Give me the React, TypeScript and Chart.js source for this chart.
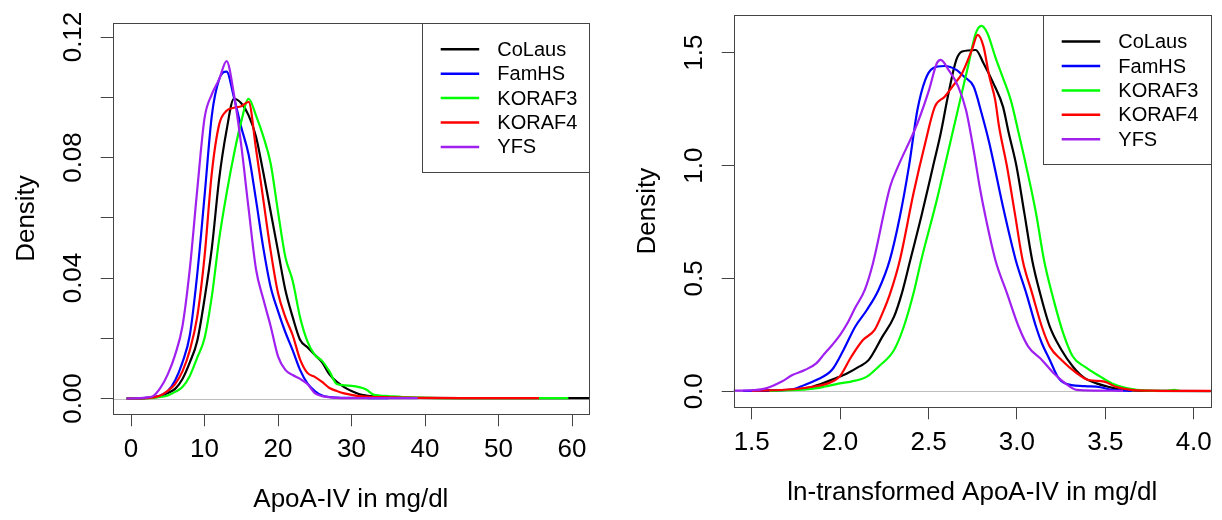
import React, { useEffect, useRef } from "react";
import { Chart, registerables } from "chart.js";

Chart.register(...registerables);

const FONT = '"Liberation Sans", Arial, Helvetica, sans-serif';

const seriesNames = ["CoLaus", "FamHS", "KORAF3", "KORAF4", "YFS"];
const seriesColors = ["#000000", "#0000FF", "#00FF00", "#FF0000", "#A020F0"];

// ---------- Left panel: ApoA-IV in mg/dl ----------
const rawGrid = [-0.6, 2, 3, 4, 5, 6, 7, 8, 9, 10, 11, 12, 13, 14, 15, 16, 17, 18, 19, 20, 21, 22, 23, 24, 25, 26, 27, 28, 29, 30, 31, 32, 33, 35, 37, 39, 45, 50, 55.5, 59.5, 63];
const rawCoLaus = [0, 0.0001, 0.0003, 0.0008, 0.0018, 0.0032, 0.0065, 0.012, 0.019, 0.033, 0.05, 0.073, 0.089, 0.0995, 0.098, 0.094, 0.087, 0.075, 0.062, 0.049, 0.036, 0.027, 0.0195, 0.017, 0.0145, 0.012, 0.008, 0.0055, 0.0038, 0.0025, 0.0015, 0.001, 0.0007, 0.0005, 0.0003, 0.0002, 0.0001, 0.0001, 0.0001, 0.0001, 0.0001];
const rawFamHS = [0, 0.0002, 0.0005, 0.001, 0.0025, 0.006, 0.012, 0.021, 0.041, 0.067, 0.094, 0.106, 0.1085, 0.1, 0.09, 0.081, 0.066, 0.05, 0.037, 0.029, 0.022, 0.016, 0.0095, 0.005, 0.0025, 0.001, 0.0005, 0.0003, 0.0002, 0.0002, 0.0002, 0.0002, 0.0001, 0.0001, null, null, null, null, null, null, null];
const rawKORAF3 = [0, 0.0001, 0.0002, 0.0005, 0.001, 0.0022, 0.0038, 0.0075, 0.0135, 0.02, 0.034, 0.053, 0.068, 0.081, 0.092, 0.0995, 0.094, 0.087, 0.078, 0.062, 0.047, 0.039, 0.027, 0.019, 0.0145, 0.0125, 0.009, 0.0048, 0.0044, 0.0042, 0.0038, 0.003, 0.0013, 0.0008, 0.0005, 0.0003, 0.0001, 0.0001, 0.0001, 0.0001, null];
const rawKORAF4 = [0, 0.0001, 0.0004, 0.001, 0.0025, 0.0048, 0.009, 0.016, 0.027, 0.047, 0.075, 0.091, 0.0955, 0.0965, 0.097, 0.0985, 0.083, 0.066, 0.049, 0.035, 0.027, 0.021, 0.013, 0.0085, 0.0072, 0.0055, 0.0035, 0.0025, 0.0017, 0.0012, 0.0008, 0.0006, 0.0005, 0.0004, 0.0003, 0.0002, 0.0001, 0.0001, 0.0001, null, null];
const rawYFS = [0, 0.0003, 0.0008, 0.0035, 0.008, 0.0145, 0.024, 0.043, 0.069, 0.093, 0.101, 0.106, 0.112, 0.101, 0.084, 0.063, 0.043, 0.033, 0.024, 0.014, 0.0095, 0.0078, 0.0065, 0.0048, 0.0018, 0.0008, 0.0004, 0.0002, 0.0001, 0.0001, 0.0001, 0.0001, 0.0001, 0.0001, 0.0001, 0.0001, null, null, null, null, null];
const rawXTicks = [0, 10, 20, 30, 40, 50, 60];
const rawXTickLabels = ["0", "10", "20", "30", "40", "50", "60"];
const rawYTicks = [0, 0.02, 0.04, 0.06, 0.08, 0.1, 0.12];
const rawYTickLabels = ["0.00", "", "0.04", "", "0.08", "", "0.12"];

// ---------- Right panel: ln-transformed ----------
const lnXCoLaus = [1.55, 1.755, 1.843, 1.975, 2.041, 2.107, 2.162, 2.239, 2.305, 2.349, 2.397, 2.459, 2.525, 2.569, 2.613, 2.657, 2.69, 2.767, 2.811, 2.867, 2.921, 2.954, 2.998, 3.042, 3.086, 3.131, 3.186, 3.252, 3.317, 3.383, 3.45, 3.516, 3.604, 3.75, 4.2];
const lnYCoLaus = [0.002, 0.009, 0.02, 0.058, 0.08, 0.109, 0.139, 0.242, 0.331, 0.434, 0.582, 0.774, 0.995, 1.143, 1.32, 1.468, 1.505, 1.512, 1.453, 1.364, 1.261, 1.143, 0.995, 0.789, 0.582, 0.434, 0.286, 0.183, 0.109, 0.058, 0.035, 0.02, 0.006, 0.002, 0.001];
const lnXFamHS = [1.45, 1.711, 1.799, 1.865, 1.953, 2.019, 2.085, 2.151, 2.217, 2.281, 2.338, 2.389, 2.437, 2.481, 2.525, 2.591, 2.657, 2.701, 2.755, 2.8, 2.844, 2.877, 2.921, 2.993, 3.053, 3.108, 3.141, 3.186, 3.23, 3.274, 3.383, 3.472, 3.538, 3.65];
const lnYFamHS = [0.002, 0.006, 0.028, 0.05, 0.094, 0.183, 0.286, 0.36, 0.449, 0.582, 0.774, 0.995, 1.246, 1.379, 1.431, 1.441, 1.424, 1.394, 1.35, 1.232, 1.099, 0.98, 0.818, 0.582, 0.434, 0.286, 0.213, 0.139, 0.065, 0.035, 0.023, 0.018, 0.006, 0.002];
const lnXKORAF3 = [1.6, 1.821, 1.909, 1.997, 2.063, 2.151, 2.217, 2.305, 2.36, 2.415, 2.459, 2.547, 2.591, 2.635, 2.679, 2.723, 2.767, 2.8, 2.833, 2.877, 2.911, 2.965, 3.01, 3.053, 3.108, 3.153, 3.208, 3.262, 3.317, 3.383, 3.472, 3.538, 3.626, 3.736, 3.85, 3.89, 3.92];
const lnYKORAF3 = [0.002, 0.009, 0.02, 0.035, 0.043, 0.065, 0.109, 0.183, 0.286, 0.434, 0.582, 0.848, 0.995, 1.143, 1.291, 1.438, 1.586, 1.619, 1.586, 1.483, 1.409, 1.291, 1.143, 0.995, 0.789, 0.582, 0.404, 0.257, 0.153, 0.109, 0.065, 0.035, 0.013, 0.003, 0.002, 0.006, 0.002];
const lnXKORAF4 = [1.5, 1.733, 1.843, 1.931, 1.997, 2.063, 2.129, 2.195, 2.239, 2.283, 2.338, 2.415, 2.481, 2.536, 2.591, 2.635, 2.69, 2.745, 2.778, 2.811, 2.844, 2.877, 2.899, 2.944, 2.988, 3.032, 3.086, 3.141, 3.186, 3.252, 3.339, 3.405, 3.494, 3.559, 3.646, 3.75, 3.9, 4.2];
const lnYKORAF4 = [0.002, 0.009, 0.02, 0.035, 0.065, 0.153, 0.227, 0.272, 0.345, 0.434, 0.582, 0.877, 1.099, 1.261, 1.305, 1.35, 1.409, 1.512, 1.579, 1.527, 1.394, 1.291, 1.172, 0.995, 0.789, 0.582, 0.434, 0.286, 0.198, 0.139, 0.08, 0.05, 0.043, 0.02, 0.006, 0.003, 0.002, 0.002];
const lnXYFS = [1.35, 1.49, 1.58, 1.67, 1.73, 1.8, 1.865, 1.91, 1.955, 2.0, 2.04, 2.085, 2.14, 2.185, 2.283, 2.327, 2.437, 2.503, 2.547, 2.569, 2.613, 2.668, 2.712, 2.755, 2.789, 2.822, 2.878, 2.944, 3.01, 3.064, 3.141, 3.208, 3.274, 3.339, 3.45, 3.6];
const lnYYFS = [0.003, 0.004, 0.013, 0.043, 0.072, 0.094, 0.124, 0.165, 0.205, 0.25, 0.3, 0.37, 0.45, 0.565, 0.907, 0.995, 1.187, 1.335, 1.453, 1.468, 1.424, 1.35, 1.246, 1.069, 0.907, 0.774, 0.582, 0.434, 0.286, 0.198, 0.139, 0.08, 0.035, 0.006, 0.003, 0.002];
const lnXTicks = [1.5, 2.0, 2.5, 3.0, 3.5, 4.0];
const lnXTickLabels = ["1.5", "2.0", "2.5", "3.0", "3.5", "4.0"];
const lnYTicks = [0, 0.5, 1.0, 1.5];
const lnYTickLabels = ["0.0", "0.5", "1.0", "1.5"];

const toPts = (xs: number[], ys: (number | null)[]) => xs.map((x, i) => ({ x, y: ys[i] }));

type Panel = {
  xs: number[][];
  ys: (number | null)[][];
  xMin: number; xMax: number; yMin: number; yMax: number;
  xTicks: number[]; xTickLabels: string[];
  yTicks: number[]; yTickLabels: string[];
  xTitle: string;
  padTop: number; padRight: number;
  yAxisWidth: number; xAxisHeight: number;
  xTitleBottom: number; yTitlePad: number;
  legendLeft: number; legendBottom: number;
};

const leftPanel: Panel = {
  xs: [rawGrid, rawGrid, rawGrid, rawGrid, rawGrid],
  ys: [rawCoLaus, rawFamHS, rawKORAF3, rawKORAF4, rawYFS],
  xMin: -2.49, xMax: 62.31, yMin: -0.00524, yMax: 0.12475,
  xTicks: rawXTicks, xTickLabels: rawXTickLabels,
  yTicks: rawYTicks, yTickLabels: rawYTickLabels,
  xTitle: "ApoA-IV in mg/dl",
  padTop: 22.7, padRight: 22,
  yAxisWidth: 112.7, xAxisHeight: 105.7,
  xTitleBottom: 4.4, yTitlePad: 11.1,
  legendLeft: 421.7, legendBottom: 172.3,
};

const rightPanel: Panel = {
  xs: [lnXCoLaus, lnXFamHS, lnXKORAF3, lnXKORAF4, lnXYFS],
  ys: [lnYCoLaus, lnYFamHS, lnYKORAF3, lnYKORAF4, lnYYFS],
  xMin: 1.398, xMax: 4.096, yMin: -0.0709, yMax: 1.667,
  xTicks: lnXTicks, xTickLabels: lnXTickLabels,
  yTicks: lnYTicks, yTickLabels: lnYTickLabels,
  xTitle: "ln-transformed ApoA-IV in mg/dl",
  padTop: 15, padRight: 11.3,
  yAxisWidth: 122.7, xAxisHeight: 112.7,
  xTitleBottom: 11.4, yTitlePad: 21.1,
  legendLeft: 431.7, legendBottom: 164.3,
};

function makePanel(canvas: HTMLCanvasElement, p: Panel) {
  const px = (v: number) => Math.round(v) + 0.5;
  const plugin = {
    id: "rstyle",
    beforeDatasetsDraw(chart: any) {
      const { ctx, chartArea: a, scales } = chart;
      const y0 = px(scales.y.getPixelForValue(0));
      ctx.save();
      ctx.strokeStyle = "#BEBEBE";
      ctx.lineWidth = 1;
      ctx.beginPath();
      ctx.moveTo(a.left, y0);
      ctx.lineTo(a.right, y0);
      ctx.stroke();
      ctx.restore();
    },
    afterDraw(chart: any) {
      const { ctx, chartArea: a, scales } = chart;
      const L = px(a.left), T = px(a.top), R = px(a.right), B = px(a.bottom);
      ctx.save();
      // y tick labels (rotated, R style)
      ctx.fillStyle = "#000";
      ctx.font = `26px ${FONT}`;
      ctx.textAlign = "center";
      ctx.textBaseline = "middle";
      p.yTicks.forEach((v, i) => {
        const lab = p.yTickLabels[i];
        if (!lab) return;
        const py = scales.y.getPixelForValue(v);
        ctx.save();
        ctx.translate(a.left - 39, py);
        ctx.rotate(-Math.PI / 2);
        ctx.fillText(lab, 0, 0);
        ctx.restore();
      });
      // box
      ctx.strokeStyle = "#444";
      ctx.lineWidth = 1;
      ctx.strokeRect(L, T, R - L, B - T);
      // legend
      const lx = px(p.legendLeft), lb = px(p.legendBottom);
      ctx.fillStyle = "#fff";
      ctx.fillRect(lx, T, R - lx, lb - T);
      ctx.strokeStyle = "#444";
      ctx.strokeRect(lx, T, R - lx, lb - T);
      ctx.font = `20px ${FONT}`;
      ctx.textAlign = "left";
      ctx.textBaseline = "middle";
      chart.data.datasets.forEach((ds: any, i: number) => {
        const y = a.top + 26.6 + i * 24.4;
        ctx.strokeStyle = ds.borderColor;
        ctx.lineWidth = 2.5;
        ctx.beginPath();
        ctx.moveTo(p.legendLeft + 19, y);
        ctx.lineTo(p.legendLeft + 57.5, y);
        ctx.stroke();
        ctx.fillStyle = "#000";
        ctx.fillText(ds.label, p.legendLeft + 75.6, y + 1);
      });
      ctx.restore();
    },
  };

  const datasets = seriesNames.map((name, i) => ({
    label: name,
    data: toPts(p.xs[i], p.ys[i]),
    borderColor: seriesColors[i],
    backgroundColor: seriesColors[i],
    borderWidth: 2.2,
    pointRadius: 0,
    fill: false,
    spanGaps: false,
    cubicInterpolationMode: "monotone" as const,
    order: seriesNames.length - 1 - i,
  }));

  return new Chart(canvas, {
    type: "line",
    data: { datasets },
    plugins: [plugin],
    options: {
      animation: false,
      responsive: false,
      maintainAspectRatio: false,
      devicePixelRatio: 1,
      events: [],
      layout: { padding: { top: p.padTop, right: p.padRight, left: 0, bottom: 0 } },
      plugins: { legend: { display: false }, tooltip: { enabled: false }, title: { display: false } },
      scales: {
        x: {
          type: "linear",
          min: p.xMin,
          max: p.xMax,
          afterBuildTicks: (s: any) => { s.ticks = p.xTicks.map((v) => ({ value: v })); },
          afterFit: (s: any) => { s.height = p.xAxisHeight; },
          ticks: {
            autoSkip: false,
            maxRotation: 0,
            minRotation: 0,
            padding: 8,
            color: "#000",
            font: { family: FONT, size: 26 },
            callback: (_v: any, i: number) => p.xTickLabels[i],
          },
          grid: { drawOnChartArea: false, drawTicks: true, tickLength: 12, tickColor: "#444", tickWidth: 1, color: "#444" },
          border: { display: false },
          title: {
            display: true,
            text: p.xTitle,
            color: "#000",
            font: { family: FONT, size: 26 },
            padding: { top: 0, bottom: p.xTitleBottom },
          },
        },
        y: {
          type: "linear",
          min: p.yMin,
          max: p.yMax,
          afterBuildTicks: (s: any) => { s.ticks = p.yTicks.map((v) => ({ value: v })); },
          afterFit: (s: any) => { s.width = p.yAxisWidth; },
          ticks: { display: false, callback: (_v: any, i: number) => p.yTickLabels[i] },
          grid: { drawOnChartArea: false, drawTicks: true, tickLength: 12, tickColor: "#444", tickWidth: 1, color: "#444" },
          border: { display: false },
          title: {
            display: true,
            text: "Density",
            color: "#000",
            font: { family: FONT, size: 26 },
            padding: { top: p.yTitlePad, bottom: 0 },
          },
        },
      },
    } as any,
  });
}

export default function App() {
  const leftRef = useRef<HTMLCanvasElement>(null);
  const rightRef = useRef<HTMLCanvasElement>(null);
  useEffect(() => {
    const c1 = makePanel(leftRef.current!, leftPanel);
    const c2 = makePanel(rightRef.current!, rightPanel);
    return () => {
      c1.destroy();
      c2.destroy();
    };
  }, []);
  return (
    <div style={{ position: "absolute", left: 0, top: 0, width: 1222, height: 520, background: "#fff" }}>
      <canvas ref={leftRef} width={611} height={520} style={{ position: "absolute", left: 0, top: 0, width: 611, height: 520 }} />
      <canvas ref={rightRef} width={611} height={520} style={{ position: "absolute", left: 611, top: 0, width: 611, height: 520 }} />
    </div>
  );
}
